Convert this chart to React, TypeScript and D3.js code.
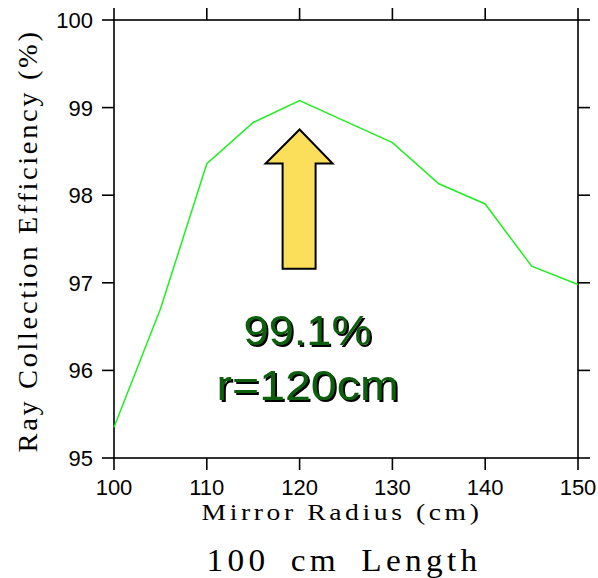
import React from 'react';
import * as d3 from 'd3';

const radius = [100, 105, 110, 115, 120, 125, 130, 135, 140, 145, 150];
const efficiency = [95.35, 96.7, 98.36, 98.83, 99.08, 98.84, 98.6, 98.13, 97.9, 97.19, 96.98];
const xTicks = [100, 110, 120, 130, 140, 150];
const yTicks = [95, 96, 97, 98, 99, 100];

const width = 598;
const height = 578;
const margin = { top: 20, right: 20, bottom: 120, left: 114 };

const App = () => {
  const x = d3.scaleLinear().domain([100, 150]).range([margin.left, width - margin.right]);
  const y = d3.scaleLinear().domain([95, 100]).range([height - margin.bottom, margin.top]);

  const line = d3.line<number>()
    .x((d, i) => x(radius[i]))
    .y(d => y(d));

  const x0 = x(100), x1 = x(150), y0 = y(95), y1 = y(100);
  const tick = 12;

  // arrow pointing at the optimum
  const ax = x(120);
  const tipY = y(98.75);
  const headY = tipY + 34;
  const baseY = y(97.16);
  const arrow = [
    [ax, tipY], [ax + 33, headY], [ax + 16, headY], [ax + 16, baseY],
    [ax - 17, baseY], [ax - 17, headY], [ax - 34, headY],
  ];

  const tx = ax + 8;
  const serif = 'Liberation Serif, Times New Roman, serif';

  return (
    <svg width={width} height={height} style={{ position: 'absolute', left: 0, top: 0, background: '#fff' }}>
      <defs>
        <filter id="shadow" x="-10%" y="-10%" width="130%" height="140%">
          <feDropShadow dx={2} dy={2} stdDeviation={0.4} floodColor="#000" floodOpacity={1} />
        </filter>
      </defs>

      {/* frame */}
      <rect x={x0} y={y1} width={x1 - x0} height={y0 - y1} fill="none" stroke="#000" strokeWidth={1.6} />

      {xTicks.map(t => (
        <g key={'x' + t}>
          <line x1={x(t)} x2={x(t)} y1={y0} y2={y0 + tick} stroke="#000" strokeWidth={1.6} />
          <line x1={x(t)} x2={x(t)} y1={y1} y2={y1 - tick} stroke="#000" strokeWidth={1.6} />
          <text x={x(t)} y={y0 + 37} textAnchor="middle" fontFamily="Liberation Sans, Arial, sans-serif" fontSize={22}>{t}</text>
        </g>
      ))}
      {yTicks.map(t => (
        <g key={'y' + t}>
          <line x1={x0 - tick} x2={x0} y1={y(t)} y2={y(t)} stroke="#000" strokeWidth={1.6} />
          <line x1={x1} x2={x1 + tick} y1={y(t)} y2={y(t)} stroke="#000" strokeWidth={1.6} />
          <text x={x0 - 21} y={y(t) + 8} textAnchor="end" fontFamily="Liberation Sans, Arial, sans-serif" fontSize={22}>{t}</text>
        </g>
      ))}

      <path d={line(efficiency) || ''} fill="none" stroke="#22ee22" strokeWidth={1.5} />

      <polygon points={arrow.map(p => p.join(',')).join(' ')} fill="#fbdf5a" stroke="#000" strokeWidth={2} strokeLinejoin="miter" />

      <g fontFamily="Liberation Sans, Arial, sans-serif" fontSize={43} fill="#0b5e0b" filter="url(#shadow)" textAnchor="middle">
        <text x={tx} y={345} textLength={128} lengthAdjust="spacingAndGlyphs">99.1%</text>
        <text x={tx} y={400} textLength={182} lengthAdjust="spacingAndGlyphs">r=120cm</text>
      </g>

      <text x={(x0 + x1) / 2 - 4} y={520} textAnchor="middle" fontFamily={serif} fontSize={23} letterSpacing={3}
        textLength={281} lengthAdjust="spacingAndGlyphs">Mirror Radius (cm)</text>
      <text x={344} y={571} textAnchor="middle" fontFamily={serif} fontSize={31} letterSpacing={4} wordSpacing={8}
        textLength={275} lengthAdjust="spacingAndGlyphs">100 cm Length</text>
      <text transform={`translate(37,${241}) rotate(-90)`} textAnchor="middle" fontFamily={serif} fontSize={27} letterSpacing={2.5}
        textLength={423} lengthAdjust="spacingAndGlyphs">Ray Collection Efficiency (%)</text>
    </svg>
  );
};

export default App;
